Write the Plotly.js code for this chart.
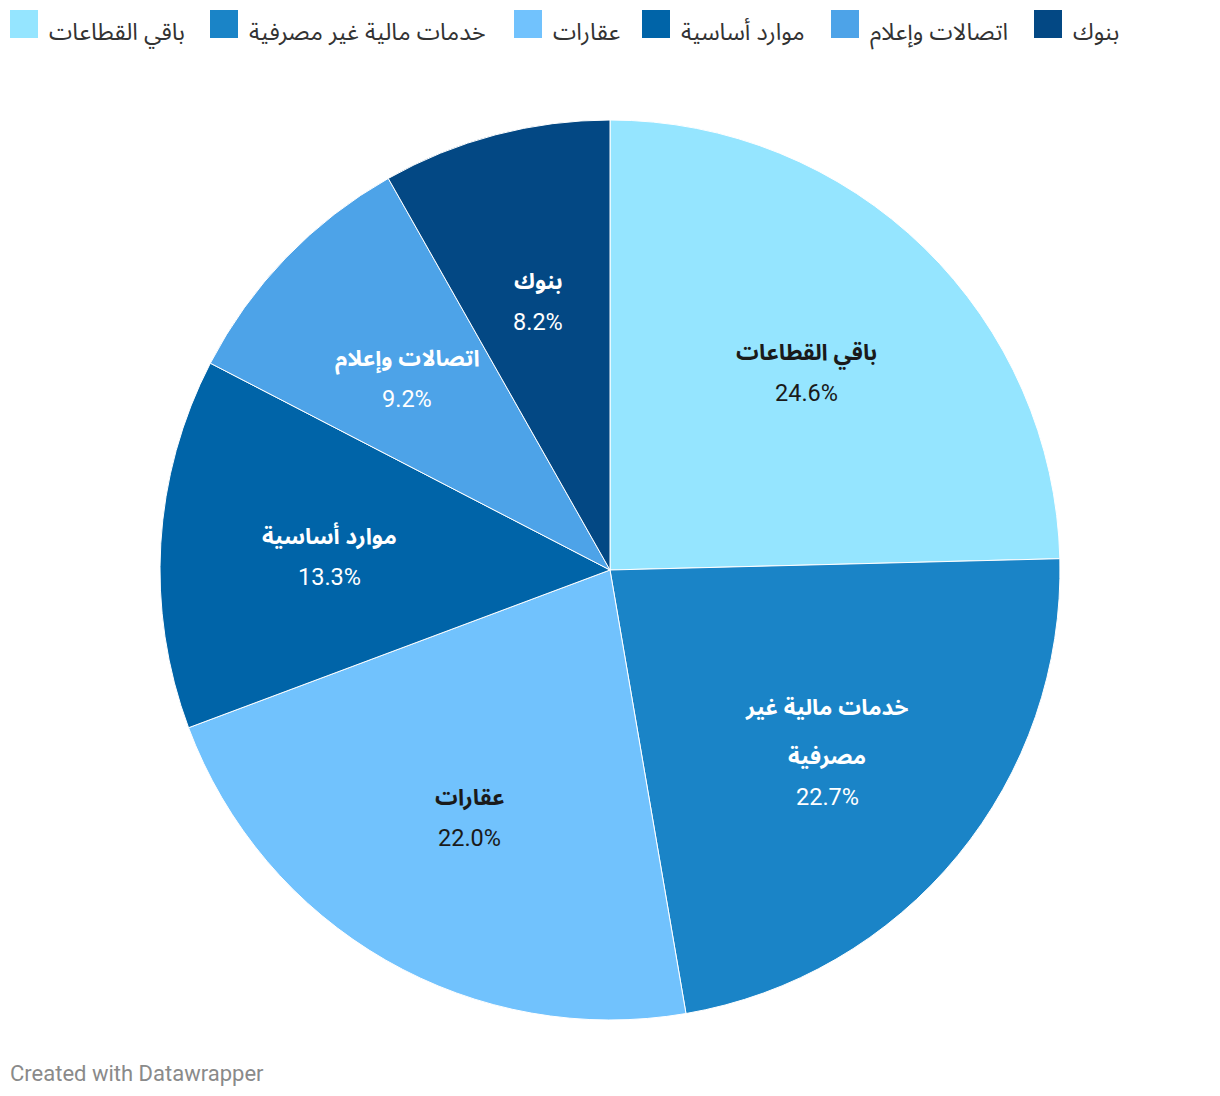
<!DOCTYPE html>
<html>
<head>
<meta charset="utf-8">
<script src="https://cdn.plot.ly/plotly-3.0.1.min.js"></script>
<style>html,body{margin:0;padding:0;background:#fff;}#chart{width:1220px;height:1096px;}</style>
</head>
<body>
<div id="chart"></div>
<script>
// Data
const categories = ['باقي القطاعات', 'خدمات مالية غير مصرفية', 'عقارات', 'موارد أساسية', 'اتصالات وإعلام', 'بنوك'];
const sliceNameLines = [['باقي القطاعات'], ['خدمات مالية غير', 'مصرفية'], ['عقارات'], ['موارد أساسية'], ['اتصالات وإعلام'], ['بنوك']];
const shares = [24.6, 22.7, 22.0, 13.3, 9.2, 8.2];

// Styles
const colors = ['#95e5ff', '#1a84c7', '#71c2fd', '#0064a8', '#4da3e8', '#034884'];
const textColors = ['#1a1a1a', '#ffffff', '#1a1a1a', '#ffffff', '#ffffff', '#ffffff'];
const legendX = [10, 210, 514, 642, 831, 1034];

const W = 1220, H = 1096, L = 160, R = 160, T = 120, B = 76;
const pw = W - L - R, ph = H - T - B;
const px2x = p => (p - L) / pw;
const px2y = p => (H - B - p) / ph;

const fontFam = "Roboto, 'Noto Sans Arabic', 'Noto Sans Arabic UI', 'Noto Naskh Arabic', 'Noto Sans', 'DejaVu Sans', sans-serif";
const arFam = "'Noto Sans Arabic', 'Noto Sans Arabic UI', 'Noto Naskh Arabic', 'DejaVu Sans', sans-serif";

const shapes = [];
const annotations = [];
categories.forEach((c, i) => {
  const x0 = legendX[i];
  shapes.push({type: 'rect', xref: 'paper', yref: 'paper',
    x0: px2x(x0), x1: px2x(x0 + 28), y0: px2y(10), y1: px2y(38),
    fillcolor: colors[i], line: {width: 0}});
  annotations.push({xref: 'paper', yref: 'paper', x: px2x(x0 + 37), y: px2y(32),
    xanchor: 'left', yanchor: 'middle', showarrow: false, text: c,
    font: {family: arFam, size: 23.5, color: '#333333'}});
});
annotations.push({xref: 'paper', yref: 'paper', x: px2x(8), y: px2y(1073),
  xanchor: 'left', yanchor: 'middle', showarrow: false, text: 'Created with Datawrapper',
  font: {family: fontFam, size: 22, color: '#8a8a8a'}});

// Slice labels at 0.62 of the radius along each slice's mid-angle (derived from the values)
const total = shares.reduce((a, b) => a + b, 0);
const cx = L + pw / 2, cy = T + ph / 2, rad = Math.min(pw, ph) / 2;
let cum = 0;
shares.forEach((v, i) => {
  const mid = (cum + v / 2) / total * 2 * Math.PI;
  cum += v;
  const bx = cx + 0.625 * rad * Math.sin(mid);
  const by = cy - 0.625 * rad * Math.cos(mid) + 4;
  const lines = sliceNameLines[i];
  const n = lines.length;
  const blockH = (n - 1) * 49 + 40;
  let y = by - blockH / 2;
  lines.forEach(t => {
    annotations.push({xref: 'paper', yref: 'paper', x: px2x(bx), y: px2y(y),
      xanchor: 'center', yanchor: 'middle', showarrow: false, text: '<b>' + t + '</b>',
      font: {family: arFam, size: 22.5, color: textColors[i]}});
    y += 49;
  });
  y += 40 - 49;
  annotations.push({xref: 'paper', yref: 'paper', x: px2x(bx), y: px2y(y),
    xanchor: 'center', yanchor: 'middle', showarrow: false, text: v.toFixed(1) + '%',
    font: {family: fontFam, size: 23.5, color: textColors[i]}});
});

const trace = {
  type: 'pie',
  labels: categories,
  values: shares,
  sort: false,
  direction: 'clockwise',
  rotation: 0,
  marker: {colors: colors, line: {color: '#ffffff', width: 1}},
  textinfo: 'none',
  hoverinfo: 'label+value',
  showlegend: false
};

const layout = {
  width: W, height: H,
  margin: {l: L, r: R, t: T, b: B},
  paper_bgcolor: '#ffffff',
  showlegend: false,
  shapes: shapes,
  annotations: annotations,
  font: {family: fontFam}
};

Plotly.newPlot('chart', [trace], layout, {displayModeBar: false, staticPlot: true});
</script>
</body>
</html>
